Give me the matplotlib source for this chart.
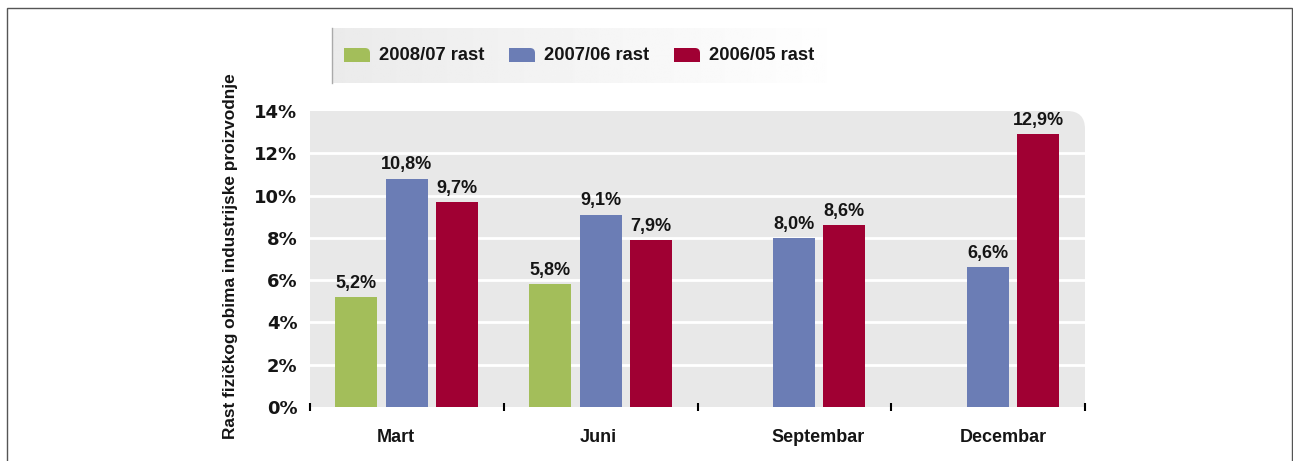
import numpy as np
import matplotlib.pyplot as plt
from matplotlib.path import Path
from matplotlib.patches import PathPatch, Rectangle

# data
months = ['Mart', 'Juni', 'Septembar', 'Decembar']
series_names = ['2008/07 rast', '2007/06 rast', '2006/05 rast']
rast_2008_07 = [5.2, 5.8, None, None]
rast_2007_06 = [10.8, 9.1, 8.0, 6.6]
rast_2006_05 = [9.7, 7.9, 8.6, 12.9]
y_ticks = [0, 2, 4, 6, 8, 10, 12, 14]
y_label = 'Rast fizičkog obima industrijske proizvodnje'

colors = ['#a3be5a', '#6b7db5', '#a00033']
plt.rcParams['font.family'] = ['Liberation Sans', 'DejaVu Sans']

W, H = 1293, 461
fig = plt.figure(figsize=(W / 100, H / 100), dpi=100)


def rounded_box(x0, y0, w, h, rx, ry, transform, color, z=0):
    # rectangle with the top-right corner rounded
    verts = [(x0, y0), (x0 + w, y0), (x0 + w, y0 + h - ry), (x0 + w, y0 + h),
             (x0 + w - rx, y0 + h), (x0, y0 + h), (x0, y0)]
    codes = [Path.MOVETO, Path.LINETO, Path.LINETO, Path.CURVE3, Path.CURVE3,
             Path.LINETO, Path.CLOSEPOLY]
    return PathPatch(Path(verts, codes), transform=transform,
                     facecolor=color, edgecolor='none', zorder=z)


# outer frame
fig.patches.append(Rectangle((7 / W, -0.05), 1285 / W, 1 - 8 / H + 0.05,
                             transform=fig.transFigure, fill=False,
                             edgecolor='#555555', lw=1.0))

ax = fig.add_axes([310 / W, 54 / H, 775 / W, 296 / H])
ax.set_facecolor('none')
ax.add_patch(rounded_box(0, 0, 1, 1, 18 / 775, 18 / 296, ax.transAxes, '#e8e8e8'))

x = np.arange(len(months))
offsets = [-0.262, 0.0, 0.258]
bw = 0.217
for vals, off, col in zip([rast_2008_07, rast_2007_06, rast_2006_05], offsets, colors):
    for xi, v in zip(x, vals):
        if v is None:
            continue
        ax.bar(xi + off, v, width=bw, color=col, zorder=3)
        ax.text(xi + off, v + 0.25, f'{v:.1f}%'.replace('.', ','),
                ha='center', va='bottom', fontsize=13, fontweight='bold',
                color='#151515', zorder=4)

ax.set_xlim(-0.5, len(months) - 0.5)
ax.set_ylim(0, 14)
ax.set_yticks(y_ticks)
ax.set_yticklabels([f'{t}%' for t in y_ticks], fontsize=13, fontweight='bold',
                   family='DejaVu Sans')
ax.tick_params(axis='y', length=0, pad=9, labelcolor='#151515')
for t in y_ticks[1:-1]:
    ax.axhline(t, color='white', lw=2, zorder=1)

ax.set_xticks(np.arange(len(months) + 1) - 0.5)
ax.set_xticklabels([])
ax.tick_params(axis='x', which='major', length=6, width=1.5, direction='inout', color='black')

# month labels sit a little off the group centres in the original
label_shift = [-0.057, -0.01, 0.12, 0.077]
for xi, m, sh in zip(x, months, label_shift):
    ax.text(xi + sh, -1.05, m, ha='center', va='top', fontsize=13,
            fontweight='bold', color='#151515')

for s in ax.spines.values():
    s.set_visible(False)

fig.text(230 / W, 1 - 256 / H, y_label, rotation=90, ha='center', va='center',
         fontsize=12.4, fontweight='bold', color='#151515')

# legend box with gradient
lax = fig.add_axes([332 / W, 1 - 83 / H, 520 / W, 55 / H])
grad = np.linspace(0.92, 1.0, 256).reshape(1, -1)
lax.imshow(grad, aspect='auto', cmap='gray', vmin=0, vmax=1, extent=[0, 1, 0, 1])
lax.set_xlim(0, 1)
lax.set_ylim(0, 1)
lax.axis('off')
fig.add_artist(plt.Line2D([332 / W, 332 / W], [1 - 83 / H, 1 - 28 / H],
                          transform=fig.transFigure, color='#aaaaaa', lw=1))

lx = 344
for name, col in zip(series_names, colors):
    fig.patches.append(rounded_box(lx / W, 1 - 62 / H, 26 / W, 14 / H, 5 / W, 5 / H,
                                   fig.transFigure, col))
    fig.text((lx + 35) / W, 1 - 55 / H, name, ha='left', va='center',
             fontsize=13.2, fontweight='bold', color='#151515')
    lx += 165

fig.savefig('out.png', dpi=100)
